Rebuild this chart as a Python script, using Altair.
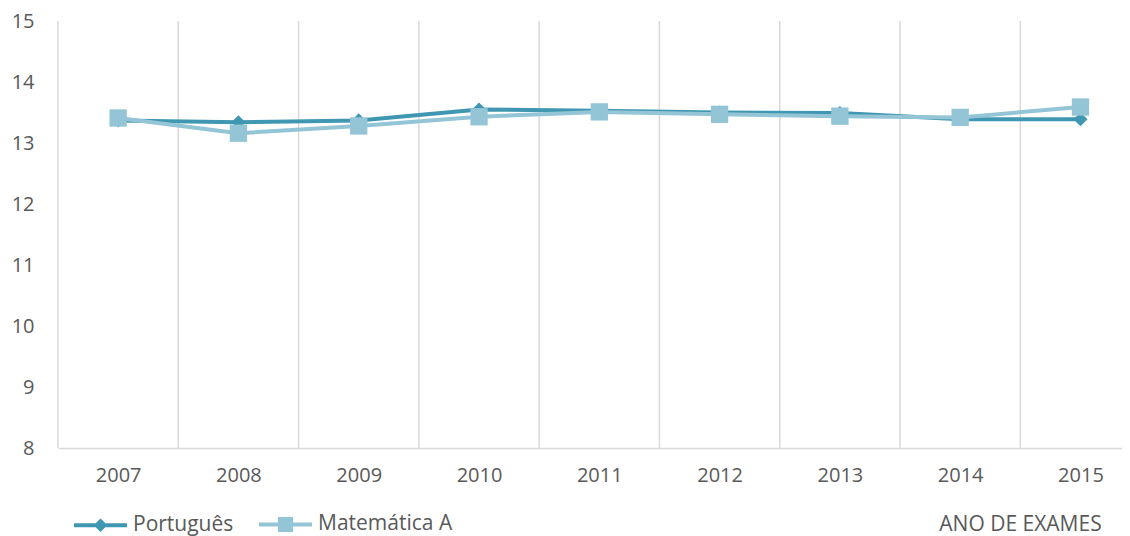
import altair as alt
import pandas as pd

# ---- data ----
years = [2007, 2008, 2009, 2010, 2011, 2012, 2013, 2014, 2015]
portugues = [13.37, 13.34, 13.37, 13.55, 13.53, 13.50, 13.49, 13.39, 13.39]
matematica = [13.41, 13.16, 13.28, 13.43, 13.51, 13.47, 13.44, 13.42, 13.59]
series_names = ["Português", "Matemática A"]
series_colors = ["#4097B1", "#93C5D6"]
y_ticks = [8, 9, 10, 11, 12, 13, 14, 15]
x_title = "ANO DE EXAMES"

df = pd.DataFrame({
    "year": years + years,
    "value": portugues + matematica,
    "series": [series_names[0]] * len(years) + [series_names[1]] * len(years),
})
bounds = pd.DataFrame({"year": [y - 0.5 for y in years]})

# ---- layout / style ----
W, H = 1064, 427
BAND = 120.29
x_dom = [years[0] - 0.5, years[0] - 0.5 + W / BAND]
FONT = "Open Sans"
TXT = "#595959"
GRID = "#D9D9D9"

x_axis = alt.Axis(
    values=years, format="d", labelFont=FONT, labelFontSize=20, labelColor=TXT,
    labelPadding=17, ticks=False, tickSize=0, grid=False, domainColor=GRID,
    domainWidth=1.5, labelFlush=False, labelOverlap=False,
    title=x_title, titleFont=FONT, titleFontSize=21, titleFontWeight="normal",
    titleColor=TXT, titleX=962, titleY=76, titleAlign="center", titleBaseline="middle",
)
y_axis = alt.Axis(
    values=y_ticks, labelFont=FONT, labelFontSize=20, labelColor=TXT,
    labelPadding=24, ticks=False, tickSize=0, domain=False, grid=False, title=None,
)
x_scale = alt.Scale(domain=x_dom, nice=False, zero=False)
y_scale = alt.Scale(domain=[y_ticks[0], y_ticks[-1]], nice=False, zero=False)

def xe():
    return alt.X("year:Q", scale=x_scale, axis=x_axis)

def ye():
    return alt.Y("value:Q", scale=y_scale, axis=y_axis)

rules = alt.Chart(bounds).mark_rule(color=GRID, strokeWidth=1.5).encode(x=xe())

layers = [rules]
marker_shapes = ["diamond", "square"]
marker_sizes = [200, 300]
for name, col, shp, sz in zip(series_names, series_colors, marker_shapes, marker_sizes):
    base = alt.Chart(df).transform_filter(alt.datum.series == name)
    layers.append(base.mark_line(color=col, strokeWidth=4).encode(x=xe(), y=ye()))
    layers.append(base.mark_point(filled=True, opacity=1, shape=shp, size=sz, color=col)
                  .encode(x=xe(), y=ye()))

# legend-only layer (no data drawn): symbols = line + marker
leg_paths = [
    "M-1,0L1,0M0,-0.15L0.15,0L0,0.15L-0.15,0Z",
    "M-1,0L1,0M-0.21,-0.21L0.21,-0.21L0.21,0.21L-0.21,0.21Z",
]
SYM = 53 * 53
leg = alt.Legend(
    orient="none", legendX=14, legendY=474.5, direction="horizontal", title=None,
    labelFont=FONT, labelFontSize=21, labelColor=TXT, symbolSize=SYM,
    symbolStrokeWidth=4, labelOffset=4, columnPadding=17, padding=0,
)
legend_layer = (
    alt.Chart(df).transform_filter("false")
    .mark_point(filled=True, opacity=1, size=SYM, strokeWidth=4)
    .encode(
        color=alt.Color("series:N", scale=alt.Scale(domain=series_names, range=series_colors), legend=leg),
        stroke=alt.Stroke("series:N", scale=alt.Scale(domain=series_names, range=series_colors), legend=leg),
        shape=alt.Shape("series:N", scale=alt.Scale(domain=series_names, range=leg_paths), legend=leg),
    )
)
layers.append(legend_layer)

chart = (
    alt.layer(*layers)
    .properties(
        width=W, height=H,
        autosize=alt.AutoSizeParams(type="none"),
        padding={"left": 50, "top": 13, "right": 0, "bottom": 88},
        background="white",
    )
    .configure_view(strokeWidth=0)
)

chart.save("out.html", embed_options={"renderer": "svg", "actions": False})
